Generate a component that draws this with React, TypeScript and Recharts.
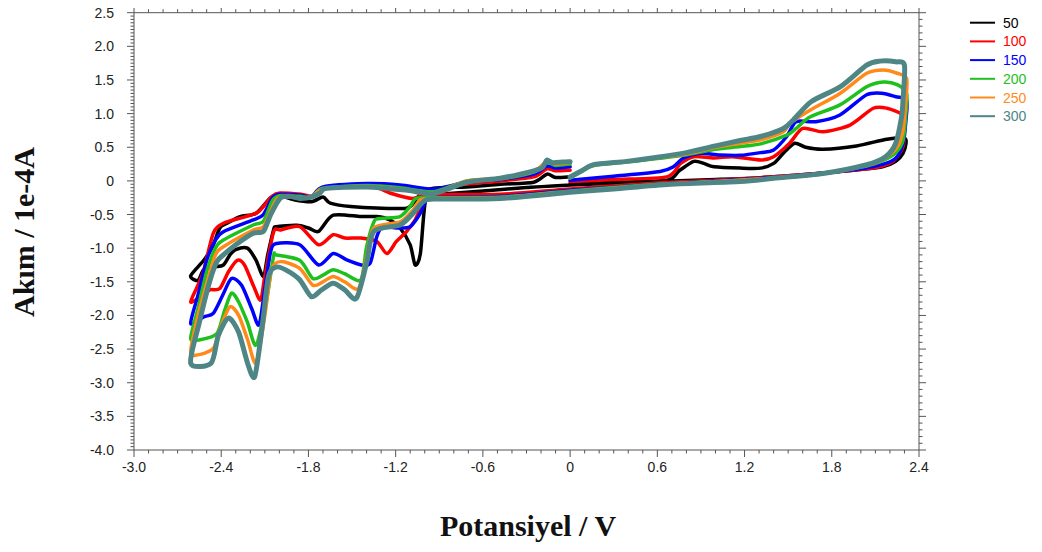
import React from 'react';
import { LineChart, Line, XAxis, YAxis } from 'recharts';

type P = [number, number];

// ---- data (potential V, current 1e-4 A) in scan order ----
const SERIES_NAMES = ['50', '100', '150', '200', '250', '300'];
const SERIES_COLORS = ['#000000', '#ff0000', '#0000ff', '#1ec01e', '#ff8a1a', '#4e8585'];
const SERIES_WIDTHS = [3.5, 3.5, 3.5, 3.5, 3.5, 5];

const cv50: P[] = [
  [0, -0.04], [0.3, -0.02], [0.665, 0.01], [0.75, 0.15], [0.85, 0.29], [0.92, 0.26], [0.99, 0.21], [1.17, 0.19], [1.31, 0.19],
  [1.4, 0.26], [1.47, 0.42], [1.545, 0.56], [1.62, 0.5], [1.74, 0.47], [1.97, 0.52], [2.18, 0.62], [2.3, 0.63],
  [2.31, 0.55], [2.29, 0.41], [2.24, 0.29], [2.15, 0.21], [1.86, 0.14], [1.4, 0.06], [1.0, 0.02], [0.6, -0.01], [0, -0.06],
  [-0.3, -0.1], [-0.6, -0.15], [-0.9, -0.2], [-0.99, -0.23], [-1.03, -1.08], [-1.066, -1.25], [-1.1, -0.95], [-1.17, -0.7],
  [-1.24, -0.58], [-1.33, -0.53], [-1.44, -0.53], [-1.63, -0.51], [-1.73, -0.75], [-1.8, -0.7], [-1.88, -0.66], [-2.02, -0.68],
  [-2.04, -0.73], [-2.08, -1.1], [-2.11, -1.42], [-2.16, -1.18], [-2.22, -1.0], [-2.3, -1.02], [-2.34, -1.1], [-2.385, -1.25],
  [-2.45, -1.28], [-2.52, -1.32], [-2.56, -1.48], [-2.61, -1.41],
  [-2.52, -1.18], [-2.46, -0.98], [-2.41, -0.7], [-2.36, -0.63], [-2.27, -0.53], [-2.16, -0.48], [-2.06, -0.25], [-2.0, -0.22],
  [-1.9, -0.28], [-1.78, -0.31], [-1.7, -0.24], [-1.65, -0.33], [-1.51, -0.38], [-1.17, -0.41], [-1.1, -0.38], [-1.03, -0.2],
  [-0.94, -0.11], [-0.71, -0.09], [-0.48, -0.05], [-0.25, -0.02], [-0.16, 0.1], [-0.1, 0.05], [0, 0.06],
];

const cv100: P[] = [
  [0, -0.01], [0.3, 0.02], [0.665, 0.06], [0.76, 0.26], [0.85, 0.36], [0.99, 0.34], [1.12, 0.36], [1.31, 0.31], [1.4, 0.36],
  [1.51, 0.56], [1.6, 0.78], [1.74, 0.73], [1.925, 0.83], [2.085, 1.08], [2.18, 1.08], [2.29, 0.98],
  [2.3, 0.8], [2.29, 0.51], [2.22, 0.29], [2.085, 0.19], [1.8, 0.13], [1.4, 0.06], [1.0, 0.01], [0.6, -0.03], [0, -0.12],
  [-0.48, -0.2], [-0.94, -0.21], [-1.01, -0.33], [-1.066, -0.58], [-1.124, -0.75], [-1.195, -0.9], [-1.26, -1.08], [-1.33, -0.9],
  [-1.44, -0.85], [-1.55, -0.85], [-1.63, -0.8], [-1.73, -0.95], [-1.86, -0.68], [-1.99, -0.73], [-2.04, -0.76], [-2.1, -1.42],
  [-2.13, -1.77], [-2.18, -1.55], [-2.24, -1.25], [-2.29, -1.18], [-2.35, -1.35], [-2.41, -1.6], [-2.48, -1.62], [-2.54, -1.72],
  [-2.61, -1.8],
  [-2.56, -1.55], [-2.52, -1.33], [-2.455, -0.78], [-2.385, -0.63], [-2.23, -0.53], [-2.145, -0.46], [-2.05, -0.23], [-1.995, -0.18],
  [-1.85, -0.2], [-1.765, -0.23], [-1.7, -0.11], [-1.54, -0.09], [-1.375, -0.06], [-1.24, -0.18], [-1.08, -0.26], [-0.96, -0.16],
  [-0.76, -0.06], [-0.48, 0.0], [-0.25, 0.06], [-0.16, 0.18], [-0.1, 0.15], [0, 0.16],
];

const cv150: P[] = [
  [0, 0.01], [0.3, 0.07], [0.62, 0.14], [0.71, 0.21], [0.78, 0.34], [0.89, 0.41], [1.03, 0.385], [1.17, 0.38], [1.31, 0.42],
  [1.4, 0.46], [1.49, 0.66], [1.555, 0.88], [1.69, 0.88], [1.856, 0.98], [2.04, 1.28], [2.155, 1.3], [2.24, 1.25], [2.315, 1.2],
  [2.31, 0.9], [2.29, 0.55], [2.23, 0.32], [2.08, 0.21], [1.76, 0.12], [1.4, 0.05], [1.0, 0.0], [0.6, -0.05], [0, -0.14],
  [-0.48, -0.23], [-0.94, -0.25], [-0.99, -0.28], [-1.03, -0.48], [-1.1, -0.68], [-1.195, -0.7], [-1.29, -0.68], [-1.33, -0.83],
  [-1.375, -1.22], [-1.435, -1.25], [-1.54, -1.17], [-1.63, -1.08], [-1.73, -1.25], [-1.86, -0.95], [-2.02, -0.93], [-2.06, -1.05],
  [-2.1, -1.6], [-2.14, -2.14], [-2.19, -1.9], [-2.26, -1.55], [-2.33, -1.45], [-2.39, -1.7], [-2.455, -1.97], [-2.52, -2.02],
  [-2.61, -2.12],
  [-2.56, -1.7], [-2.5, -1.18], [-2.44, -0.88], [-2.385, -0.755], [-2.18, -0.58], [-2.11, -0.5], [-2.05, -0.26], [-2.0, -0.2],
  [-1.86, -0.21], [-1.78, -0.24], [-1.7, -0.09], [-1.4, -0.04], [-1.17, -0.06], [-0.94, -0.12], [-0.71, -0.02], [-0.48, 0.02],
  [-0.25, 0.1], [-0.16, 0.22], [-0.1, 0.19], [0, 0.21],
];

const cv200: P[] = [
  [0, 0.04], [0.08, 0.14], [0.16, 0.23], [0.39, 0.28], [0.8, 0.39], [1.0, 0.47], [1.17, 0.51], [1.31, 0.55], [1.49, 0.68],
  [1.555, 0.78], [1.65, 0.95], [1.856, 1.13], [2.04, 1.4], [2.155, 1.47], [2.25, 1.43], [2.315, 1.3],
  [2.31, 1.0], [2.29, 0.6], [2.24, 0.42], [2.15, 0.3], [2.04, 0.22], [1.74, 0.11], [1.4, 0.04], [1.0, -0.01], [0.6, -0.05],
  [0, -0.15], [-0.48, -0.24], [-0.94, -0.25], [-1.06, -0.26], [-1.1, -0.38], [-1.17, -0.53], [-1.31, -0.56], [-1.35, -0.61],
  [-1.4, -0.98], [-1.44, -1.47], [-1.55, -1.38], [-1.63, -1.32], [-1.7, -1.4], [-1.77, -1.45], [-1.86, -1.18], [-2.02, -1.1],
  [-2.04, -1.12], [-2.09, -1.8], [-2.16, -2.44], [-2.22, -2.1], [-2.28, -1.8], [-2.33, -1.67], [-2.38, -1.95], [-2.43, -2.27],
  [-2.545, -2.36], [-2.61, -2.34],
  [-2.56, -1.9], [-2.5, -1.35], [-2.44, -1.0], [-2.385, -0.88], [-2.18, -0.655], [-2.11, -0.6], [-2.05, -0.3], [-2.0, -0.22],
  [-1.86, -0.23], [-1.78, -0.25], [-1.7, -0.11], [-1.4, -0.07], [-1.17, -0.1], [-0.94, -0.16], [-0.71, 0.0], [-0.48, 0.03],
  [-0.25, 0.13], [-0.16, 0.27], [-0.1, 0.23], [0, 0.25],
];

const cv250: P[] = [
  [0, 0.05], [0.08, 0.15], [0.16, 0.24], [0.39, 0.29], [0.8, 0.4], [1.0, 0.5], [1.17, 0.56], [1.31, 0.61], [1.467, 0.73],
  [1.51, 0.85], [1.65, 1.05], [1.856, 1.3], [2.04, 1.6], [2.155, 1.65], [2.25, 1.6], [2.315, 1.52],
  [2.31, 1.2], [2.29, 0.75], [2.25, 0.5], [2.16, 0.33], [2.04, 0.23], [1.74, 0.11], [1.4, 0.04], [1.0, -0.01], [0.6, -0.06],
  [0, -0.16], [-0.48, -0.25], [-0.94, -0.26], [-1.03, -0.28], [-1.08, -0.43], [-1.17, -0.61], [-1.35, -0.7], [-1.4, -1.13],
  [-1.455, -1.6], [-1.55, -1.5], [-1.63, -1.42], [-1.7, -1.5], [-1.77, -1.55], [-1.86, -1.3], [-1.99, -1.2], [-2.055, -1.32],
  [-2.1, -2.0], [-2.16, -2.71], [-2.22, -2.35], [-2.28, -2.0], [-2.34, -1.87], [-2.4, -2.15], [-2.455, -2.49], [-2.57, -2.59],
  [-2.61, -2.54],
  [-2.56, -2.0], [-2.49, -1.45], [-2.44, -1.1], [-2.385, -0.98], [-2.18, -0.73], [-2.11, -0.68], [-2.05, -0.4], [-2.0, -0.24],
  [-1.86, -0.25], [-1.78, -0.25], [-1.7, -0.12], [-1.4, -0.08], [-1.17, -0.12], [-0.94, -0.18], [-0.71, 0.0], [-0.48, 0.04],
  [-0.25, 0.14], [-0.16, 0.29], [-0.1, 0.25], [0, 0.27],
];

const cv300: P[] = [
  [0, 0.06], [0.08, 0.15], [0.16, 0.24], [0.39, 0.29], [0.6, 0.35], [0.8, 0.42], [1.0, 0.52], [1.17, 0.6], [1.31, 0.66],
  [1.467, 0.78], [1.535, 0.905], [1.66, 1.18], [1.86, 1.4], [2.04, 1.72], [2.13, 1.78], [2.24, 1.77], [2.3, 1.72],
  [2.29, 1.2], [2.28, 0.95], [2.24, 0.56], [2.17, 0.36], [2.04, 0.24], [1.74, 0.11], [1.4, 0.04], [1.17, -0.01], [0.69, -0.05],
  [0.3, -0.12], [0, -0.17], [-0.48, -0.26], [-0.94, -0.27], [-1.01, -0.31], [-1.08, -0.48], [-1.17, -0.655], [-1.35, -0.75],
  [-1.4, -1.22], [-1.47, -1.745], [-1.55, -1.62], [-1.63, -1.52], [-1.71, -1.62], [-1.78, -1.72], [-1.86, -1.47], [-1.95, -1.33],
  [-2.02, -1.28], [-2.075, -1.42], [-2.12, -2.2], [-2.17, -2.91], [-2.22, -2.7], [-2.28, -2.25], [-2.35, -2.04], [-2.42, -2.3],
  [-2.47, -2.71], [-2.61, -2.71],
  [-2.55, -2.1], [-2.48, -1.5], [-2.43, -1.2], [-2.385, -1.1], [-2.3, -0.95], [-2.18, -0.78], [-2.11, -0.75], [-2.06, -0.5],
  [-1.995, -0.26], [-1.93, -0.23], [-1.86, -0.26], [-1.78, -0.24], [-1.72, -0.18], [-1.675, -0.11], [-1.4, -0.09], [-1.12, -0.14],
  [-0.94, -0.19], [-0.71, -0.02], [-0.48, 0.04], [-0.25, 0.15], [-0.19, 0.2], [-0.16, 0.31], [-0.12, 0.27], [-0.05, 0.28], [0, 0.285],
];

const SERIES_POINTS: P[][] = [cv50, cv100, cv150, cv200, cv250, cv300];

// ---- axes ----
const X_DOMAIN: [number, number] = [-3.0, 2.4];
const Y_DOMAIN: [number, number] = [-4.0, 2.5];
const X_MAJOR = [-3.0, -2.4, -1.8, -1.2, -0.6, 0, 0.6, 1.2, 1.8, 2.4];
const X_LABELS = ['-3.0', '-2.4', '-1.8', '-1.2', '-0.6', '0', '0.6', '1.2', '1.8', '2.4'];
const Y_MAJOR = [2.5, 2.0, 1.5, 1.0, 0.5, 0, -0.5, -1.0, -1.5, -2.0, -2.5, -3.0, -3.5, -4.0];
const Y_LABELS = ['2.5', '2.0', '1.5', '1.0', '0.5', '0', '-0.5', '-1.0', '-1.5', '-2.0', '-2.5', '-3.0', '-3.5', '-4.0'];
const X_TICKS = Array.from({ length: 55 }, (_, k) => Math.round((-3 + k * 0.1) * 10) / 10);
const Y_TICKS_FINE = Array.from({ length: 131 }, (_, k) => Math.round((-4 + k * 0.05) * 100) / 100);
const Y_TICKS_MED = Array.from({ length: 66 }, (_, k) => Math.round((-4 + k * 0.1) * 10) / 10);

const AXIS_COLOR = '#555555';
const TICK_FONT = '"Liberation Sans", Arial, sans-serif';
const TITLE_FONT = '"Liberation Serif", "Times New Roman", serif';

const majorIndex = (arr: number[], v: number) => arr.findIndex((m) => Math.abs(m - v) < 1e-6);

// smooth Catmull-Rom style curve (d3 curve interface) for non-monotonic CV loops
const smoothCurve = (context: any) => {
  let pts: [number, number][] = [];
  const t = 0.13;
  return {
    areaStart() {},
    areaEnd() {},
    lineStart() {
      pts = [];
    },
    lineEnd() {
      if (!pts.length) return;
      context.moveTo(pts[0][0], pts[0][1]);
      for (let i = 0; i < pts.length - 1; i++) {
        const p0 = pts[i - 1] || pts[i];
        const p1 = pts[i];
        const p2 = pts[i + 1];
        const p3 = pts[i + 2] || p2;
        context.bezierCurveTo(
          p1[0] + (p2[0] - p0[0]) * t,
          p1[1] + (p2[1] - p0[1]) * t,
          p2[0] - (p3[0] - p1[0]) * t,
          p2[1] - (p3[1] - p1[1]) * t,
          p2[0],
          p2[1],
        );
      }
    },
    point(x: number, y: number) {
      pts.push([+x, +y]);
    },
  };
};

const makeXTick = (side: 'top' | 'bottom') => (props: any) => {
  const { x, y, payload } = props;
  const idx = majorIndex(X_MAJOR, payload.value);
  const len = idx >= 0 ? 7 : 3.5;
  const dir = side === 'top' ? -1 : 1;
  return (
    <g>
      <line x1={x} x2={x} y1={y} y2={y + dir * len} stroke={AXIS_COLOR} strokeWidth={1} />
      {idx >= 0 && side === 'bottom' ? (
        <text x={x} y={y + 22} textAnchor="middle" fontSize={14} fontFamily={TICK_FONT} fill="#222">
          {X_LABELS[idx]}
        </text>
      ) : null}
    </g>
  );
};

const makeYTick = (side: 'left' | 'right') => (props: any) => {
  const { x, y, payload } = props;
  const idx = majorIndex(Y_MAJOR, payload.value);
  const len = idx >= 0 ? 7 : 3.5;
  const dir = side === 'left' ? -1 : 1;
  return (
    <g>
      <line x1={x} x2={x + dir * len} y1={y} y2={y} stroke={AXIS_COLOR} strokeWidth={1} />
      {idx >= 0 && side === 'left' ? (
        <text x={x - 20} y={y + 5} textAnchor="end" fontSize={14} fontFamily={TICK_FONT} fill="#222">
          {Y_LABELS[idx]}
        </text>
      ) : null}
    </g>
  );
};

const W = 1042;
const H = 552;

export default function App() {
  return (
    <div style={{ position: 'relative', width: W, height: H, margin: -8 }}>
      <LineChart width={W} height={H} margin={{ top: 11.7, left: 133, right: 122, bottom: 101 }}>
        <XAxis
          xAxisId="b"
          type="number"
          dataKey="v"
          orientation="bottom"
          domain={X_DOMAIN}
          ticks={X_TICKS}
          interval={0}
          height={1}
          tickSize={0}
          tickMargin={0}
          tickLine={false}
          axisLine={{ stroke: AXIS_COLOR }}
          tick={makeXTick('bottom')}
          allowDataOverflow
        />
        <XAxis
          xAxisId="t"
          type="number"
          dataKey="v"
          orientation="top"
          domain={X_DOMAIN}
          ticks={X_TICKS}
          interval={0}
          height={1}
          tickSize={0}
          tickMargin={0}
          tickLine={false}
          axisLine={{ stroke: AXIS_COLOR }}
          tick={makeXTick('top')}
          allowDataOverflow
        />
        <YAxis
          yAxisId="l"
          type="number"
          orientation="left"
          domain={Y_DOMAIN}
          ticks={Y_TICKS_FINE}
          interval={0}
          width={1}
          tickSize={0}
          tickMargin={0}
          tickLine={false}
          axisLine={{ stroke: AXIS_COLOR }}
          tick={makeYTick('left')}
          allowDataOverflow
        />
        <YAxis
          yAxisId="r"
          type="number"
          orientation="right"
          domain={Y_DOMAIN}
          ticks={Y_TICKS_MED}
          interval={0}
          width={1}
          tickSize={0}
          tickMargin={0}
          tickLine={false}
          axisLine={{ stroke: AXIS_COLOR }}
          tick={makeYTick('right')}
          allowDataOverflow
        />
        {SERIES_POINTS.map((pts, k) => (
          <Line
            key={SERIES_NAMES[k]}
            xAxisId="b"
            yAxisId="l"
            data={pts.map(([v, i]) => ({ v, i }))}
            dataKey="i"
            type={smoothCurve as any}
            stroke={SERIES_COLORS[k]}
            strokeWidth={SERIES_WIDTHS[k]}
            strokeLinejoin="round"
            strokeLinecap="round"
            dot={false}
            activeDot={false}
            isAnimationActive={false}
          />
        ))}
      </LineChart>
      <svg width={W} height={H} style={{ position: 'absolute', left: 0, top: 0, pointerEvents: 'none' }}>
        <text
          x={23}
          y={232}
          transform="rotate(-90 23 232)"
          textAnchor="middle"
          dominantBaseline="central"
          fontFamily={TITLE_FONT}
          fontWeight="bold"
          fontSize={30}
          fill="#111"
        >
          Akım / 1e-4A
        </text>
        <text
          x={528}
          y={525}
          textAnchor="middle"
          dominantBaseline="central"
          fontFamily={TITLE_FONT}
          fontWeight="bold"
          fontSize={30}
          fill="#111"
        >
          Potansiyel / V
        </text>
        {SERIES_NAMES.map((name, k) => {
          const y = 22.7 + 18.7 * k;
          return (
            <g key={name}>
              <line x1={970} x2={995} y1={y} y2={y} stroke={SERIES_COLORS[k]} strokeWidth={2} />
              <text x={1003} y={y} dominantBaseline="central" fontSize={14} fontFamily={TICK_FONT} fill={SERIES_COLORS[k]}>
                {name}
              </text>
            </g>
          );
        })}
      </svg>
    </div>
  );
}
